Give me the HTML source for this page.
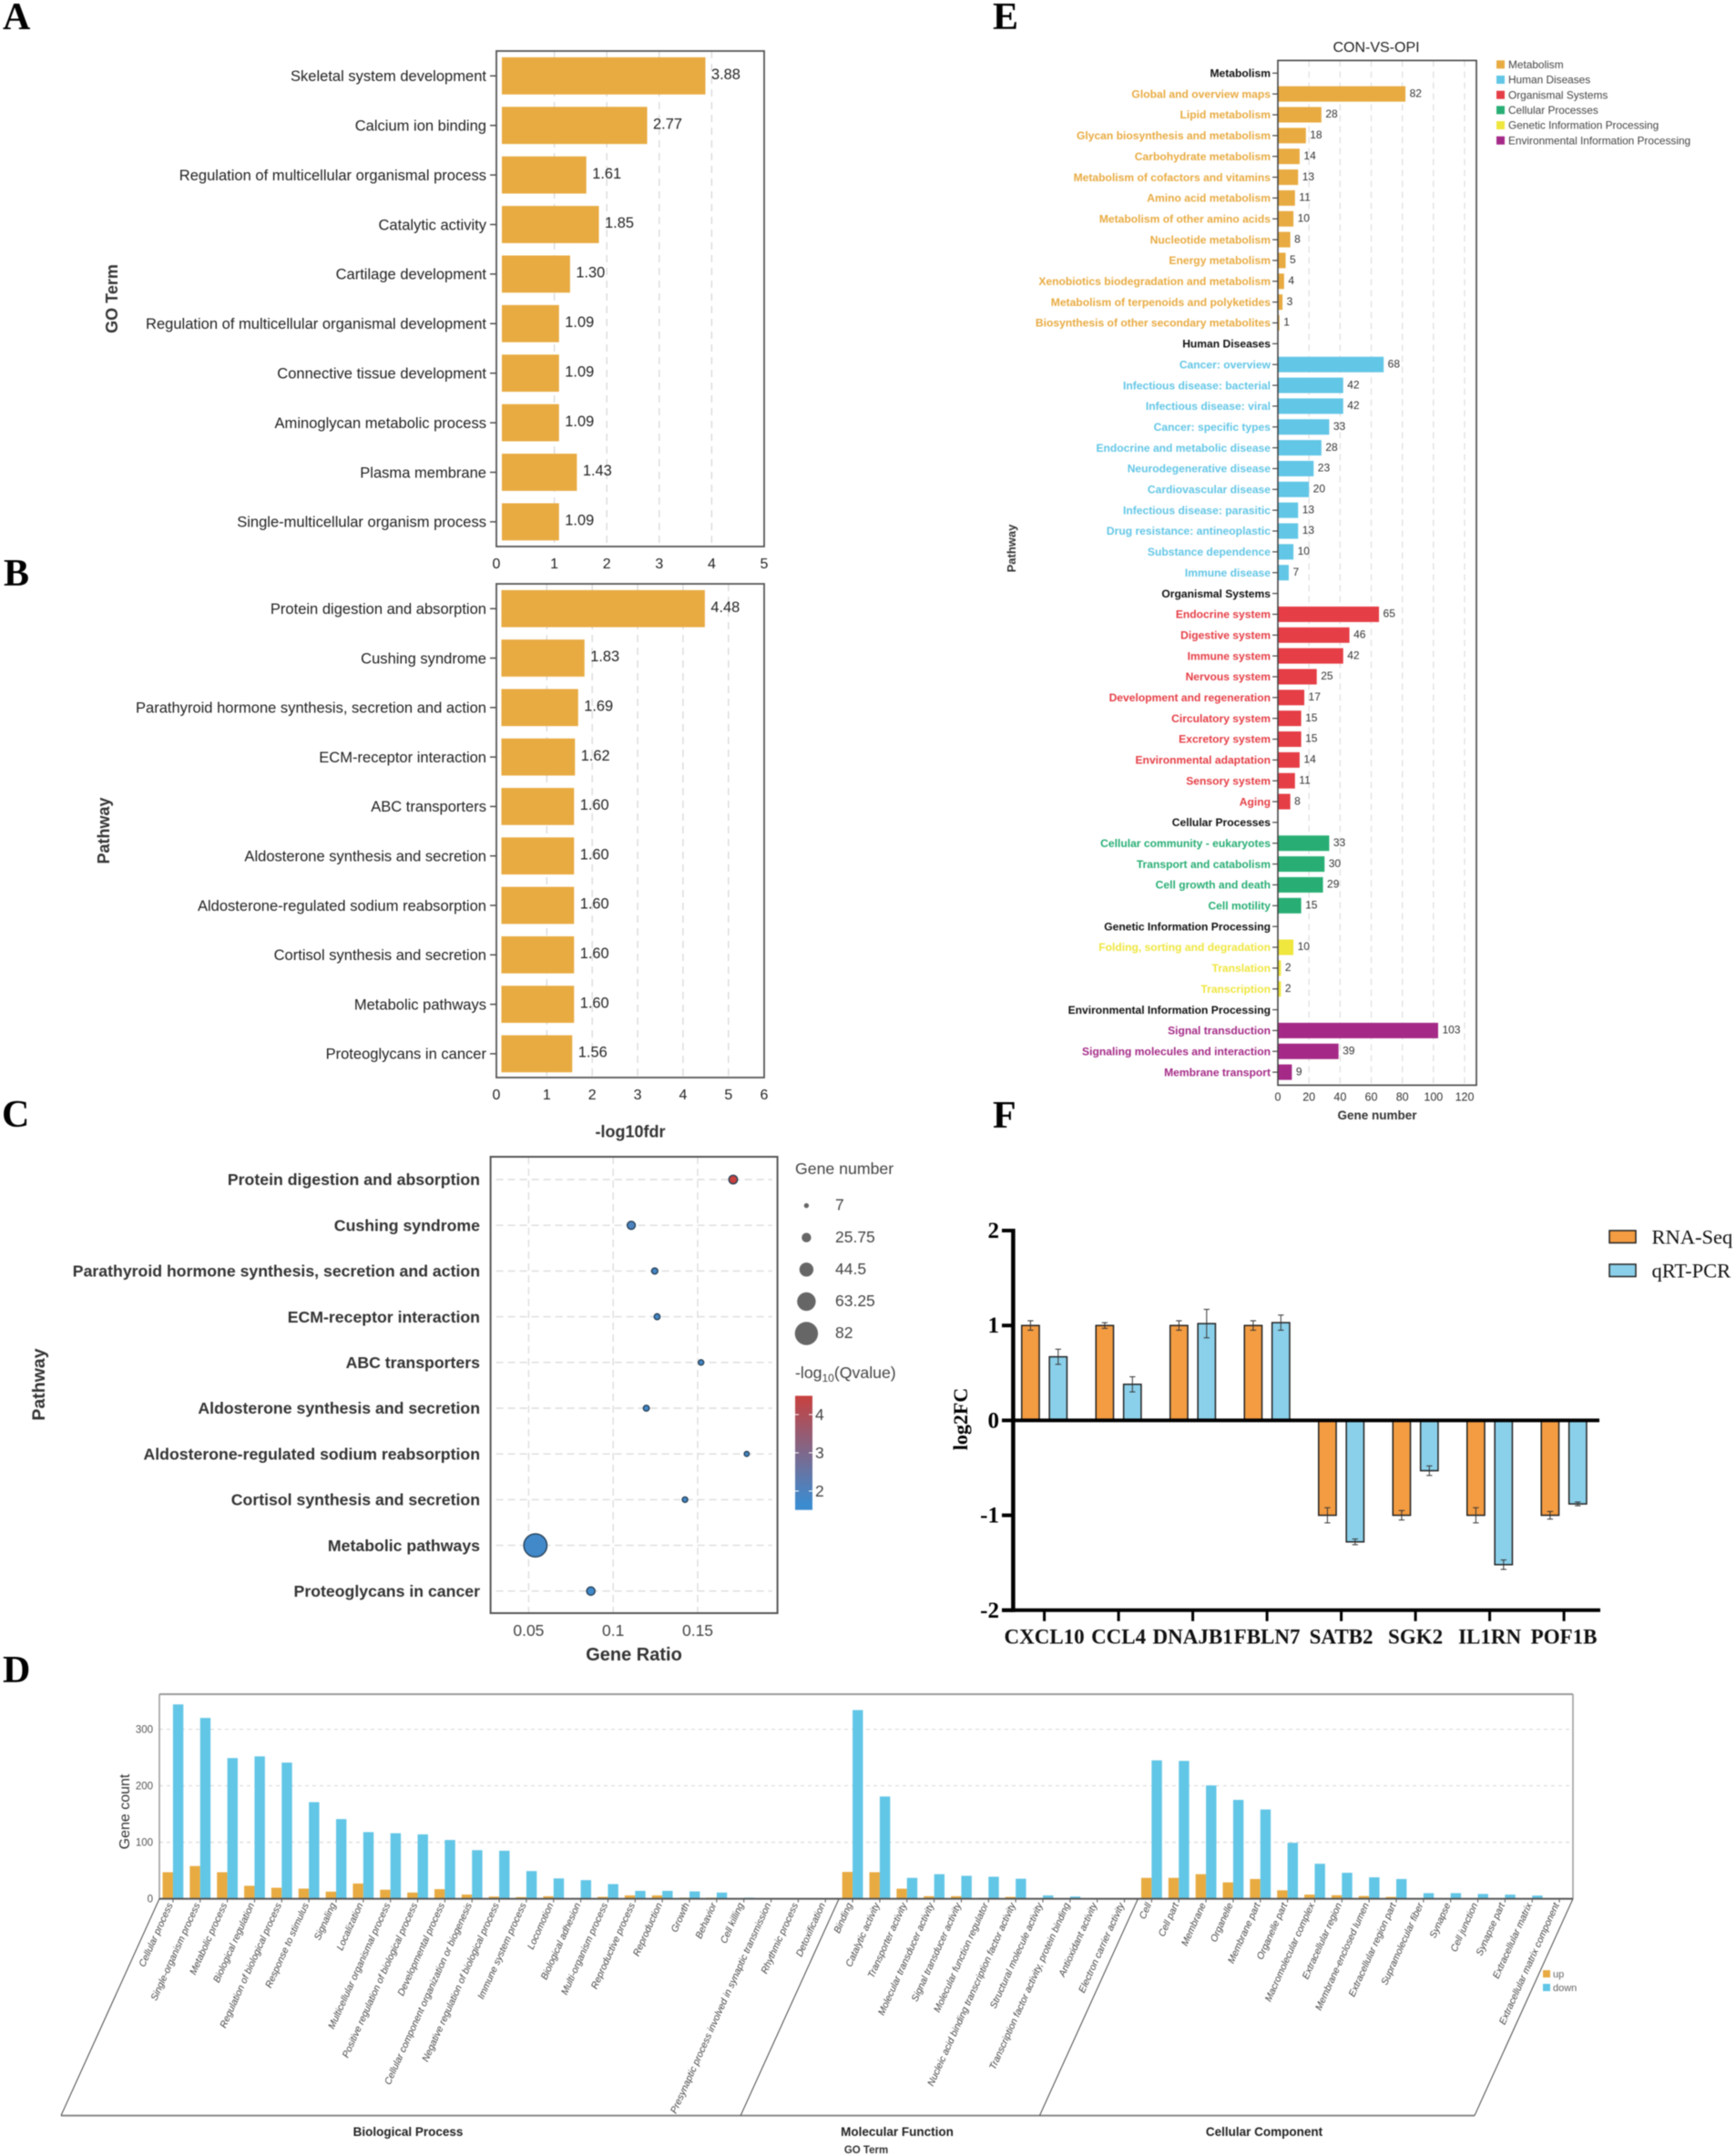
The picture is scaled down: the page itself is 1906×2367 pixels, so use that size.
<!DOCTYPE html>
<html lang="en">
<head>
<meta charset="utf-8">
<title>Transcriptome enrichment figure</title>
<style>
html,body{margin:0;padding:0;background:#fff}
svg{display:block;font-family:"Liberation Sans",sans-serif;filter:blur(0.5px)}
.serif{font-family:"Liberation Serif",serif;font-weight:bold}
</style>
</head>
<body>
<svg id="fig" xmlns="http://www.w3.org/2000/svg" width="1906" height="2367" viewBox="0 0 1906 2367">
  <defs>
    <linearGradient id="qGradient" x1="0" y1="1" x2="0" y2="0">
      <stop offset="0.06" stop-color="#3d8bcf"/>
      <stop offset="1" stop-color="#c8413f"/>
    </linearGradient>
  </defs>
  <rect width="1906" height="2367" fill="#fff"/>

  <text class="serif" x="3" y="32" font-size="42" fill="#000">A</text>
  <text class="serif" x="4" y="643" font-size="42" fill="#000">B</text>
  <text class="serif" x="2" y="1237" font-size="42" fill="#000">C</text>
  <text class="serif" x="3" y="1847" font-size="42" fill="#000">D</text>
  <text class="serif" x="1090" y="32" font-size="42" fill="#000">E</text>
  <text class="serif" x="1090" y="1238" font-size="42" fill="#000">F</text>

  <g id="panelA">
    <text transform="translate(129,328) rotate(-90)" text-anchor="middle" font-size="18" font-weight="bold" fill="#333">GO Term</text>
  </g>
  <g id="panelB">
    <text transform="translate(120,912) rotate(-90)" text-anchor="middle" font-size="18" font-weight="bold" fill="#333">Pathway</text>
    <text x="692" y="1248.5" text-anchor="middle" font-size="18" font-weight="bold" fill="#333">-log10fdr</text>
  </g>
  <g id="panelC">
    <text transform="translate(49,1520) rotate(-90)" text-anchor="middle" font-size="19.5" font-weight="bold" fill="#333">Pathway</text>
    <text x="696" y="1823" text-anchor="middle" font-size="20" font-weight="bold" fill="#333">Gene Ratio</text>
    <text x="873" y="1289" font-size="17.7" fill="#444">Gene number</text>
    <text x="873" y="1513" font-size="17.7" fill="#444">-log<tspan font-size="12" dy="4">10</tspan><tspan dy="-4">(Qvalue)</tspan></text>
  </g>
  <g id="panelD">
    <text transform="translate(142,1989) rotate(-90)" text-anchor="middle" font-size="16" fill="#333">Gene count</text>
    <text x="448" y="2345" text-anchor="middle" font-size="13.5" font-weight="bold" fill="#222">Biological Process</text>
    <text x="985" y="2345" text-anchor="middle" font-size="13.5" font-weight="bold" fill="#222">Molecular Function</text>
    <text x="1388" y="2345" text-anchor="middle" font-size="13.5" font-weight="bold" fill="#222">Cellular Component</text>
    <text x="951" y="2364" text-anchor="middle" font-size="11.5" font-weight="bold" fill="#333">GO Term</text>
  </g>
  <g id="panelE">
    <text x="1511" y="57" text-anchor="middle" font-size="16" fill="#222">CON-VS-OPI</text>
    <text transform="translate(1115,602) rotate(-90)" text-anchor="middle" font-size="13" font-weight="bold" fill="#333">Pathway</text>
    <text x="1512" y="1229" text-anchor="middle" font-size="13.5" font-weight="bold" fill="#333">Gene number</text>
  </g>
  <g id="panelF">
    <text class="serif" transform="translate(1062,1558) rotate(-90)" text-anchor="middle" font-size="22" fill="#000">log2FC</text>
  </g>
</svg>
<script>
/* Panel A data */
const goTerms = ["Skeletal system development","Calcium ion binding","Regulation of multicellular organismal process","Catalytic activity","Cartilage development","Regulation of multicellular organismal development","Connective tissue development","Aminoglycan metabolic process","Plasma membrane","Single-multicellular organism process"];
const goValues = [3.88,2.77,1.61,1.85,1.30,1.09,1.09,1.09,1.43,1.09];
const goTicks = [0,1,2,3,4,5];

/* Panel B data */
const pathwayTerms = ["Protein digestion and absorption","Cushing syndrome","Parathyroid hormone synthesis, secretion and action","ECM-receptor interaction","ABC transporters","Aldosterone synthesis and secretion","Aldosterone-regulated sodium reabsorption","Cortisol synthesis and secretion","Metabolic pathways","Proteoglycans in cancer"];
const pathwayValues = [4.48,1.83,1.69,1.62,1.60,1.60,1.60,1.60,1.60,1.56];
const pathwayTicks = [0,1,2,3,4,5,6];

/* Panel C data */
const bubbleRatios = [0.171,0.1107,0.1246,0.126,0.152,0.1196,0.179,0.1425,0.054,0.0868];
const bubbleGenes = [22,20,12,11,9,11,7,9,82,21];
const bubbleQ = [4.48,1.83,1.69,1.62,1.60,1.60,1.60,1.60,1.60,1.56];
const bubbleTicks = [0.05,0.1,0.15];
const sizeLegendValues = [7,25.75,44.5,63.25,82];
const colorTicks = [2,3,4];

/* Panel D data */
const dLabels = ["Cellular process","Single-organism process","Metabolic process","Biological regulation","Regulation of biological process","Response to stimulus","Signaling","Localization","Multicellular organismal process","Positive regulation of biological process","Developmental process","Cellular component organization or biogenesis","Negative regulation of biological process","Immune system process","Locomotion","Biological adhesion","Multi-organism process","Reproductive process","Reproduction","Growth","Behavior","Cell killing","Presynaptic process involved in synaptic transmission","Rhythmic process","Detoxification",
"Binding","Catalytic activity","Transporter activity","Molecular transducer activity","Signal transducer activity","Molecular function regulator","Nucleic acid binding transcription factor activity","Structural molecule activity","Transcription factor activity, protein binding","Antioxidant activity","Electron carrier activity",
"Cell","Cell part","Membrane","Organelle","Membrane part","Organelle part","Macromolecular complex","Extracellular region","Membrane-enclosed lumen","Extracellular region part","Supramolecular fiber","Synapse","Cell junction","Synapse part","Extracellular matrix","Extracellular matrix component"];
const dUp = [47,58,47,23,19.5,18,12.6,27,16,11,17,7.5,4,3,4.5,0,3.5,6,6,2,2,0,0,0,0,
47.5,47,17.8,4.6,4.6,1.7,3.4,0,0,0,0,
37,37,43.5,29,35,15,7.4,6.3,5,3.4,0,0,0,0,0,0];
const dDown = [344,320,249,252,241,171,141,118,116,114,104,86,85,49,36,33,26,14,14,13,11,2,1,1,0,
334,181,37,43.5,40.7,39,35.5,6,4,0,0,
245,244,200.6,175,158,99,62,46,38,35,10,10,8.6,7.4,5.7,0];
const dTicks = [0,100,200,300];
const dSectionStarts = [0,25,36,52];
const dLegend = ["up","down"];

/* Panel E data */
const keggLabels = ["Metabolism","Global and overview maps","Lipid metabolism","Glycan biosynthesis and metabolism","Carbohydrate metabolism","Metabolism of cofactors and vitamins","Amino acid metabolism","Metabolism of other amino acids","Nucleotide metabolism","Energy metabolism","Xenobiotics biodegradation and metabolism","Metabolism of terpenoids and polyketides","Biosynthesis of other secondary metabolites",
"Human Diseases","Cancer: overview","Infectious disease: bacterial","Infectious disease: viral","Cancer: specific types","Endocrine and metabolic disease","Neurodegenerative disease","Cardiovascular disease","Infectious disease: parasitic","Drug resistance: antineoplastic","Substance dependence","Immune disease",
"Organismal Systems","Endocrine system","Digestive system","Immune system","Nervous system","Development and regeneration","Circulatory system","Excretory system","Environmental adaptation","Sensory system","Aging",
"Cellular Processes","Cellular community - eukaryotes","Transport and catabolism","Cell growth and death","Cell motility",
"Genetic Information Processing","Folding, sorting and degradation","Translation","Transcription",
"Environmental Information Processing","Signal transduction","Signaling molecules and interaction","Membrane transport"];
const keggValues = [null,82,28,18,14,13,11,10,8,5,4,3,1,
null,68,42,42,33,28,23,20,13,13,10,7,
null,65,46,42,25,17,15,15,14,11,8,
null,33,30,29,15,
null,10,2,2,
null,103,39,9];
const keggTicks = [0,20,40,60,80,100,120];
const keggGroups = ["Metabolism","Human Diseases","Organismal Systems","Cellular Processes","Genetic Information Processing","Environmental Information Processing"];
const keggColors = ["#e8ab42","#62c6e6","#e53e46","#28ae74","#efe63e","#a52a87"];

/* Panel F data */
const genes = ["CXCL10","CCL4","DNAJB1","FBLN7","SATB2","SGK2","IL1RN","POF1B"];
const rnaSeq = [1,1,1,1,-1,-1,-1,-1];
const qpcr = [0.67,0.38,1.02,1.03,-1.28,-0.53,-1.52,-0.88];
const rnaSeqErr = [0.05,0.03,0.05,0.05,0.08,0.05,0.08,0.04];
const qpcrErr = [0.08,0.08,0.15,0.08,0.03,0.05,0.05,0.02];
const fTicks = [2,1,0,-1,-2];
const fLegend = ["RNA-Seq","qRT-PCR"];

const NS = "http://www.w3.org/2000/svg";
function linear(d0, d1, r0, r1) {
  return function (v) { return r0 + (v - d0) * (r1 - r0) / (d1 - d0); };
}
function make(parent, tag, attrs) {
  const el = document.createElementNS(NS, tag);
  for (const k in attrs) el.setAttribute(k, attrs[k]);
  parent.appendChild(el);
  return el;
}
function label(parent, str, attrs) {
  const el = make(parent, "text", attrs);
  el.textContent = str;
  return el;
}

/* Panels A and B share one drawing routine */
function drawHBars(g, terms, values, ticks, box, xAxis, yFirst, yStep, barH) {
  const rowY = function (i) { return yFirst + i * yStep; };
  ticks.forEach(function (t) {
    if (t === 0 || xAxis(t) >= box.right) return;
    const el = make(g, "line", {x1: xAxis(t), x2: xAxis(t), y1: box.top, y2: box.bottom, stroke: "#d8d8d8", "stroke-width": 1.3, "stroke-dasharray": "8 6"});
    
    
  });
  terms.forEach(function (term, i) {
    const bar = make(g, "rect", {x: xAxis(0), y: rowY(i) - barH / 2, width: xAxis(values[i]) - xAxis(0), height: barH, fill: "#e8ab42"});
    
    
    const tick = make(g, "line", {x1: 538, x2: box.left, y1: rowY(i), y2: rowY(i), stroke: "#444", "stroke-width": 1.4});
    
    
    const name = label(g, term, {x: 534, y: rowY(i), dy: ".35em", "text-anchor": "end", "font-size": 16.55, fill: "#222"});
    
    
    const val = label(g, values[i].toFixed(2), {x: xAxis(values[i]) + 6.5, y: rowY(i) - 2, dy: ".35em", "font-size": 16.4, fill: "#222"});
    
    
  });
  const frame = make(g, "rect", {x: box.left, y: box.top, width: box.right - box.left, height: box.bottom - box.top, fill: "none", stroke: "#555", "stroke-width": 1.8});
  
  
  ticks.forEach(function (t) {
    const px = t === 0 ? box.left : Math.min(xAxis(t), box.right);
    const tl = label(g, String(t), {x: px, y: box.bottom + 18.5, dy: ".35em", "text-anchor": "middle", "font-size": 16, fill: "#222"});
    
    
  });
}
drawHBars(document.getElementById("panelA"), goTerms, goValues, goTicks, {left: 545, right: 839, top: 56, bottom: 600}, linear(0, 5, 551, 839), 83.3, 54.4, 40.8);
drawHBars(document.getElementById("panelB"), pathwayTerms, pathwayValues, pathwayTicks, {left: 545, right: 839, top: 641, bottom: 1183}, linear(0, 5, 550.5, 799.8), 668.2, 54.3, 40.7);

/* Panel C */
(function () {
  const g = document.getElementById("panelC");
  const box = {left: 538.6, right: 853.6, top: 1270, bottom: 1771};
  const x = linear(0.05, 0.15, 580.4, 766);
  const y = function (i) { return 1295 + i * 50.2; };
  const r = linear(7, 82, 2.7, 12.7);
  const colorY = linear(2, 4, 1637, 1553);
  const qT = linear(1.5, 4.49, 0, 1);
  const qColor = function (q) {
    const t = Math.max(0, Math.min(1, qT(q)));
    return "rgb(" + Math.round(61 + t * (200 - 61)) + "," + Math.round(139 + t * (65 - 139)) + "," + Math.round(207 + t * (63 - 207)) + ")";
  };
  bubbleTicks.forEach(function (t) {
    const gl = make(g, "line", {x1: x(t), x2: x(t), y1: box.top, y2: box.bottom, stroke: "#dcdcdc", "stroke-width": 1.4, "stroke-dasharray": "8 5"});
    
    
    const tl = label(g, String(t), {x: x(t), y: 1790, dy: ".35em", "text-anchor": "middle", "font-size": 17.5, fill: "#444"});
    
    
  });
  pathwayTerms.forEach(function (term, i) {
    const gl = make(g, "line", {x1: box.left + 6, x2: box.right - 6, y1: y(i), y2: y(i), stroke: "#dcdcdc", "stroke-width": 1.4, "stroke-dasharray": "8 5"});
    
    
    const tl = label(g, term, {x: 527, y: y(i), dy: ".35em", "text-anchor": "end", "font-size": 17.7, "font-weight": "bold", fill: "#333"});
    
    
  });
  bubbleRatios.forEach(function (v, i) {
    const c = make(g, "circle", {cx: x(v), cy: y(i), r: r(bubbleGenes[i]), fill: qColor(bubbleQ[i]), stroke: "#263f55", "stroke-width": 1.4});
    
    
  });
  const frame = make(g, "rect", {x: box.left, y: box.top, width: box.right - box.left, height: box.bottom - box.top, fill: "none", stroke: "#555", "stroke-width": 2});
  
  
  sizeLegendValues.forEach(function (v, i) {
    const ly = 1323.6 + i * 35.1;
    const c = make(g, "circle", {cx: 885.4, cy: ly, r: r(v), fill: "#666"});
    
    
    const t = label(g, String(v), {x: 917, y: ly - 1, dy: ".35em", "font-size": 17.5, fill: "#444"});
    
    
  });
  const bar = make(g, "rect", {x: 873, y: 1532.4, width: 19, height: 125.3, fill: "url(#qGradient)"});
  
  
  colorTicks.forEach(function (t) {
    const a = make(g, "line", {x1: 873, x2: 877, y1: colorY(t), y2: colorY(t), stroke: "#fff", "stroke-width": 1});
    
    
    const b = make(g, "line", {x1: 888, x2: 892, y1: colorY(t), y2: colorY(t), stroke: "#fff", "stroke-width": 1});
    
    
    const tl = label(g, String(t), {x: 895, y: colorY(t), dy: ".35em", "font-size": 17.5, fill: "#444"});
    
    
  });
})();

/* Panel D */
(function () {
  const g = document.getElementById("panelD");
  const left = 175, right = 1727, top = 1860, base = 2084.6, floor = 2322.6, lean = 108;
  const x = linear(0, dLabels.length, left, right);
  const y = linear(0, 300, base, 1898.5);
  const barW = 11.4;
  dTicks.forEach(function (t) {
    if (t > 0) {
      const gl = make(g, "line", {x1: left, x2: right, y1: y(t), y2: y(t), stroke: "#ddd", "stroke-width": 1.3, "stroke-dasharray": "4 4"});
      
      
    }
    const tl = label(g, String(t), {x: 168, y: y(t), dy: ".35em", "text-anchor": "end", "font-size": 11.5, fill: "#555"});
    
    
  });
  dLabels.forEach(function (name, i) {
    const cx = x(i + 0.5);
    const up = make(g, "rect", {x: cx - barW, y: y(dUp[i]), width: barW, height: base - y(dUp[i]), fill: "#e8ab42"});
    
    
    const down = make(g, "rect", {x: cx, y: y(dDown[i]), width: barW, height: base - y(dDown[i]), fill: "#62c6e6"});
    
    
    const tick = make(g, "line", {x1: cx, x2: cx, y1: base, y2: base + 4, stroke: "#555", "stroke-width": 1});
    
    
    const tl = label(g, name, {transform: "translate(" + cx + ",2091) rotate(-65.6)", "text-anchor": "end", "font-size": 10.6, "font-style": "italic", fill: "#444"});
    
    
  });
  const edges = [
    make(g, "line", {x1: left, x2: right, y1: top, y2: top, stroke: "#999", "stroke-width": 2}),
    make(g, "line", {x1: left, x2: left, y1: top, y2: base, stroke: "#999", "stroke-width": 1.5}),
    make(g, "line", {x1: right, x2: right, y1: top, y2: base, stroke: "#999", "stroke-width": 1.5}),
    make(g, "line", {x1: left, x2: right, y1: base, y2: base, stroke: "#555", "stroke-width": 2}),
    make(g, "line", {x1: left - lean, x2: right - lean, y1: floor, y2: floor, stroke: "#888", "stroke-width": 2})
  ];
  edges.forEach(function (e) {
    
    
  });
  dSectionStarts.forEach(function (s) {
    const px = x(s);
    const sep = make(g, "line", {x1: px, y1: base, x2: px - lean, y2: floor, stroke: "#444", "stroke-width": 1});
    
    
  });
  dLegend.forEach(function (name, i) {
    const ly = 2167 + i * 15;
    const sw = make(g, "rect", {x: 1694, y: ly - 4, width: 8, height: 8, fill: i === 0 ? "#e8ab42" : "#62c6e6"});
    
    
    const t = label(g, name, {x: 1705, y: ly, dy: ".35em", "font-size": 11, fill: "#666"});
    
    
  });
})();

/* Panel E */
(function () {
  const g = document.getElementById("panelE");
  const box = {left: 1403, right: 1621, top: 66.4, bottom: 1191.4};
  const x = linear(0, 120, 1403, 1608);
  const y = function (i) { return 80.3 + i * 22.85; };
  const barH = 17;
  keggTicks.forEach(function (t) {
    if (t > 0) {
      const gl = make(g, "line", {x1: x(t), x2: x(t), y1: box.top, y2: box.bottom, stroke: "#dedede", "stroke-width": 1.2, "stroke-dasharray": "7 5"});
      
      
    }
    const tl = label(g, String(t), {x: x(t), y: 1204, dy: ".35em", "text-anchor": "middle", "font-size": 12.5, fill: "#333"});
    
    
  });
  let group = -1;
  keggLabels.forEach(function (name, i) {
    const v = keggValues[i];
    if (v === null) group += 1;
    const color = v === null ? "#111" : keggColors[group];
    const tick = make(g, "line", {x1: 1397, x2: box.left, y1: y(i), y2: y(i), stroke: "#444", "stroke-width": 1.2});
    
    
    const tl = label(g, name, {x: 1395, y: y(i), dy: ".35em", "text-anchor": "end", "font-size": 12.1, "font-weight": "bold", fill: color});
    
    
    if (v !== null) {
      const bar = make(g, "rect", {x: x(0), y: y(i) - barH / 2, width: x(v) - x(0), height: barH, fill: color});
      
      
      const val = label(g, String(v), {x: x(v) + 4.5, y: y(i) - 1, dy: ".35em", "font-size": 12, fill: "#333"});
      
      
    }
  });
  const frame = make(g, "rect", {x: box.left, y: box.top, width: box.right - box.left, height: box.bottom - box.top, fill: "none", stroke: "#444", "stroke-width": 1.6});
  
  
  keggGroups.forEach(function (name, i) {
    const ly = 70.8 + i * 16.68;
    const sw = make(g, "rect", {x: 1643, y: ly - 4.5, width: 9, height: 9, fill: keggColors[i]});
    
    
    const t = label(g, name, {x: 1656, y: ly, dy: ".35em", "font-size": 11.85, fill: "#444"});
    
    
  });
})();

/* Panel F */
(function () {
  const g = document.getElementById("panelF");
  const y = linear(0, 1, 1559.4, 1455.2);
  const x = function (i) { return 1146.6 + i * 81.5; };
  const barW = 19.3, offset = 15.2;
  function drawSeries(values, errors, fill, dir, barName, errName) {
    values.forEach(function (v, i) {
      const cx = x(i) + dir * offset;
      const bar = make(g, "rect", {x: cx - barW / 2, y: Math.min(y(0), y(v)), width: barW, height: Math.abs(y(v) - y(0)), fill: fill, stroke: "#222", "stroke-width": 1.5});
      
      
      const hi = y(v + errors[i]), lo = y(v - errors[i]);
      const err = make(g, "path", {d: "M" + (cx - 3.2) + " " + hi + "H" + (cx + 3.2) + "M" + cx + " " + hi + "V" + lo + "M" + (cx - 3.2) + " " + lo + "H" + (cx + 3.2), fill: "none", stroke: "#333", "stroke-width": 1});
      
      
    });
  }
  drawSeries(rnaSeq, rnaSeqErr, "#f39c42", -1, 'bar-rna-seq', 'error-bar-rna-seq');
  drawSeries(qpcr, qpcrErr, "#8bd0ea", 1, 'bar-qrt-pcr', 'error-bar-qrt-pcr');
  const zero = make(g, "line", {x1: 1112, x2: 1756, y1: y(0), y2: y(0), stroke: "#000", "stroke-width": 4});
  
  
  const yAxis = make(g, "line", {x1: 1112.4, x2: 1112.4, y1: y(2) - 2, y2: y(-2) + 2, stroke: "#000", "stroke-width": 4.5});
  
  
  const xAxis = make(g, "line", {x1: 1100, x2: 1757, y1: y(-2), y2: y(-2), stroke: "#000", "stroke-width": 4});
  
  
  fTicks.forEach(function (t) {
    const tick = make(g, "line", {x1: 1100, x2: 1112, y1: y(t), y2: y(t), stroke: "#000", "stroke-width": 4});
    
    
    const tl = label(g, String(t), {class: "serif", x: 1097, y: y(t), dy: ".32em", "text-anchor": "end", "font-size": 25, fill: "#000"});
    
    
  });
  genes.forEach(function (name, i) {
    const tick = make(g, "line", {x1: x(i), x2: x(i), y1: y(-2), y2: y(-2) + 12, stroke: "#000", "stroke-width": 3});
    
    
    const tl = label(g, name, {class: "serif", x: x(i), y: 1797, dy: ".33em", "text-anchor": "middle", "font-size": 23, fill: "#111"});
    
    
  });
  fLegend.forEach(function (name, i) {
    const sw = make(g, "rect", {x: 1767, y: 1351 + i * 37, width: 29, height: 13.5, fill: i === 0 ? "#f39c42" : "#8bd0ea", stroke: "#222", "stroke-width": 1.5});
    
    
    const t = label(g, name, {x: 1813.5, y: 1358 + i * 37, dy: ".33em", "font-family": "Liberation Serif, serif", "font-size": 22.5, fill: "#111"});
    
    
  });
})();
</script>
</body>
</html>
